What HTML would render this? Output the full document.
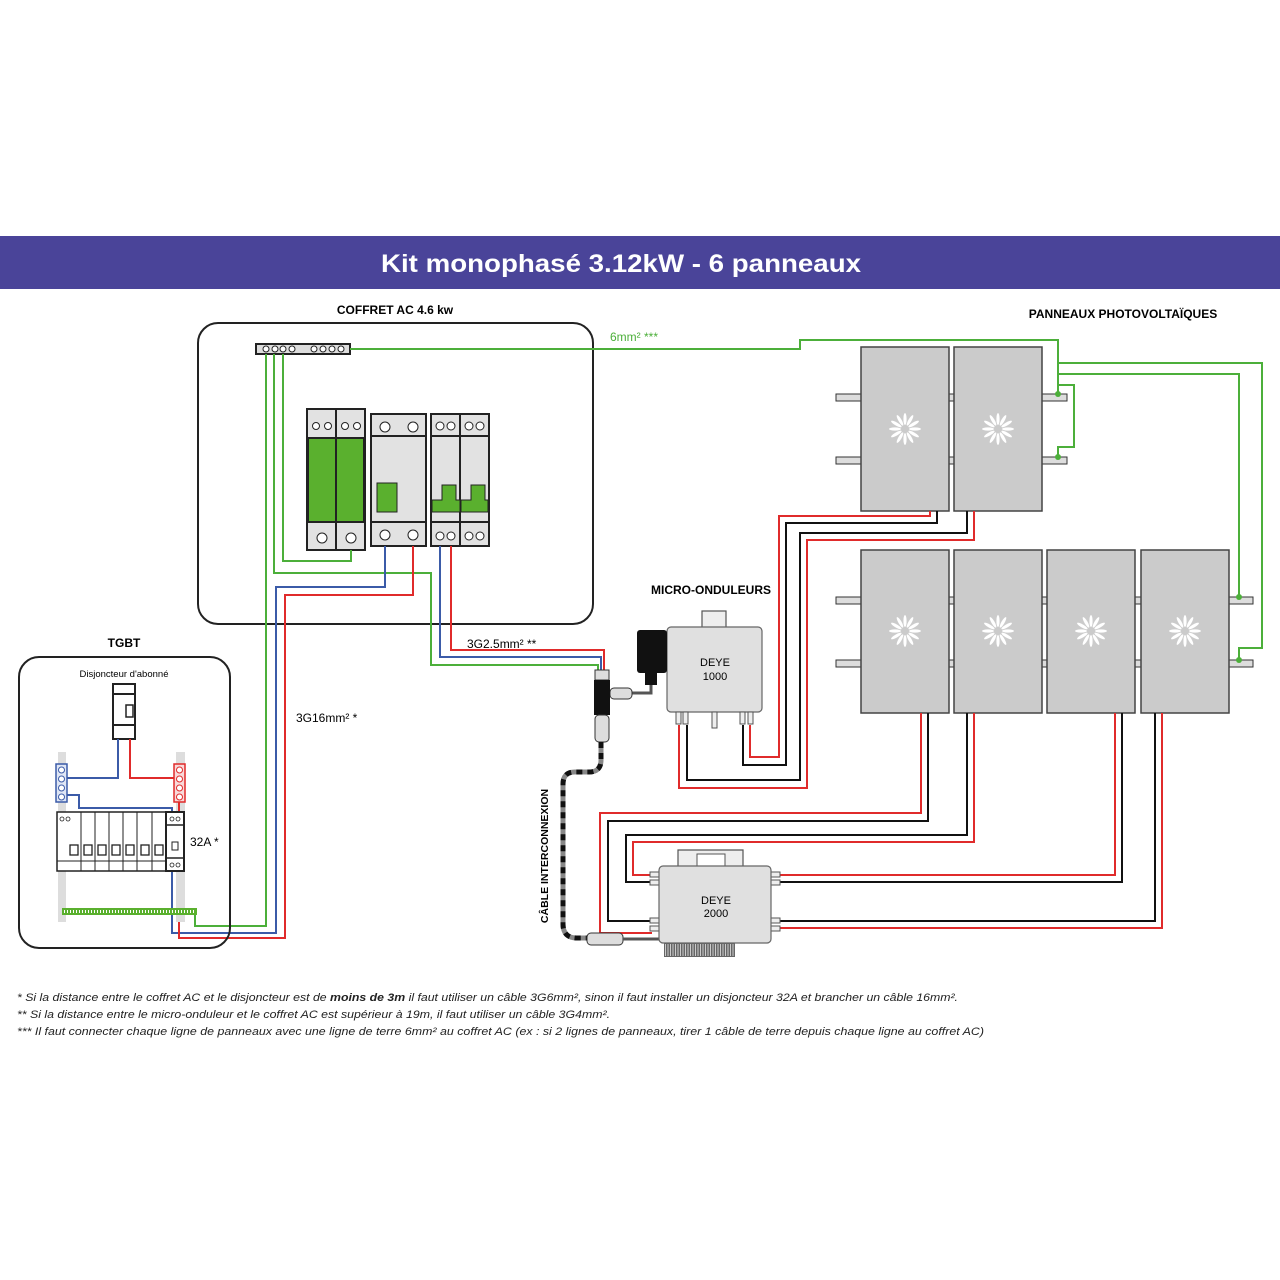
<!DOCTYPE html>
<html><head><meta charset="utf-8"><style>
html,body{margin:0;padding:0;background:#fff}
svg{display:block}
text{font-family:"Liberation Sans",sans-serif}
</style></head><body>
<svg width="1280" height="1280" viewBox="0 0 1280 1280" xmlns="http://www.w3.org/2000/svg">
<defs>
<g id="sun" fill="#fff">
<ellipse cx="0" cy="-10" rx="1.6" ry="6"/>
<ellipse cx="0" cy="-10" rx="1.6" ry="6" transform="rotate(30)"/>
<ellipse cx="0" cy="-10" rx="1.6" ry="6" transform="rotate(60)"/>
<ellipse cx="0" cy="-10" rx="1.6" ry="6" transform="rotate(90)"/>
<ellipse cx="0" cy="-10" rx="1.6" ry="6" transform="rotate(120)"/>
<ellipse cx="0" cy="-10" rx="1.6" ry="6" transform="rotate(150)"/>
<ellipse cx="0" cy="-10" rx="1.6" ry="6" transform="rotate(180)"/>
<ellipse cx="0" cy="-10" rx="1.6" ry="6" transform="rotate(210)"/>
<ellipse cx="0" cy="-10" rx="1.6" ry="6" transform="rotate(240)"/>
<ellipse cx="0" cy="-10" rx="1.6" ry="6" transform="rotate(270)"/>
<ellipse cx="0" cy="-10" rx="1.6" ry="6" transform="rotate(300)"/>
<ellipse cx="0" cy="-10" rx="1.6" ry="6" transform="rotate(330)"/>
</g>
</defs>
<rect width="1280" height="1280" fill="#fff"/>
<rect x="0" y="236" width="1280" height="53" fill="#4a4499"/>
<text x="381" y="272" textLength="480" lengthAdjust="spacingAndGlyphs" font-size="25" font-weight="bold" fill="#fff">Kit monophasé 3.12kW - 6 panneaux</text>

<text x="395" y="314" text-anchor="middle" font-size="12" font-weight="bold">COFFRET AC 4.6 kw</text>
<rect x="198" y="323" width="395" height="301" rx="20" fill="none" stroke="#222" stroke-width="2"/>
<rect x="256" y="344" width="94" height="10" fill="#ddd" stroke="#222" stroke-width="2"/>
<g fill="#fff" stroke="#222" stroke-width="1"><circle cx="266" cy="349" r="3"/><circle cx="275" cy="349" r="3"/><circle cx="283" cy="349" r="3"/><circle cx="292" cy="349" r="3"/><circle cx="314" cy="349" r="3"/><circle cx="323" cy="349" r="3"/><circle cx="332" cy="349" r="3"/><circle cx="341" cy="349" r="3"/></g>
<rect x="307" y="409" width="58" height="141" fill="#e2e2e2" stroke="#222" stroke-width="2"/>
<line x1="336" y1="409" x2="336" y2="550" stroke="#222" stroke-width="2"/>
<rect x="308" y="438" width="56" height="84" fill="#5ab02e" stroke="#222" stroke-width="2"/>
<line x1="336" y1="438" x2="336" y2="522" stroke="#222" stroke-width="2"/>
<rect x="371" y="414" width="55" height="132" fill="#e2e2e2" stroke="#222" stroke-width="2"/>
<line x1="371" y1="436" x2="426" y2="436" stroke="#222" stroke-width="2"/>
<line x1="371" y1="522" x2="426" y2="522" stroke="#222" stroke-width="2"/>
<rect x="377" y="483" width="20" height="29" fill="#5ab02e" stroke="#222" stroke-width="1"/>
<rect x="431" y="414" width="58" height="132" fill="#e2e2e2" stroke="#222" stroke-width="2"/>
<line x1="460" y1="414" x2="460" y2="546" stroke="#222" stroke-width="2"/>
<line x1="431" y1="436" x2="489" y2="436" stroke="#222" stroke-width="2"/>
<line x1="431" y1="522" x2="489" y2="522" stroke="#222" stroke-width="2"/>
<path d="M432 500 h10 v-15 h14 v15 h4 v12 h-28z M461 500 h10 v-15 h14 v15 h3 v12 h-27z" fill="#5ab02e" stroke="#222" stroke-width="1"/>
<g fill="#fff" stroke="#222" stroke-width="1">
<circle cx="316" cy="426" r="3.5"/><circle cx="328" cy="426" r="3.5"/><circle cx="345" cy="426" r="3.5"/><circle cx="357" cy="426" r="3.5"/>
<circle cx="322" cy="538" r="5"/><circle cx="351" cy="538" r="5"/>
<circle cx="385" cy="427" r="5"/><circle cx="413" cy="427" r="5"/><circle cx="385" cy="535" r="5"/><circle cx="413" cy="535" r="5"/>
<circle cx="440" cy="426" r="4"/><circle cx="451" cy="426" r="4"/><circle cx="469" cy="426" r="4"/><circle cx="480" cy="426" r="4"/>
<circle cx="440" cy="536" r="4"/><circle cx="451" cy="536" r="4"/><circle cx="469" cy="536" r="4"/><circle cx="480" cy="536" r="4"/>
</g>

<g fill="none" stroke-width="2">
<polyline points="283,354 283,561 351,561 351,550" stroke="#4caf3a"/>
<polyline points="274,354 274,573 431,573 431,665 598,665 598,672" stroke="#4caf3a"/>
<polyline points="266,354 266,926 195,926 195,914" stroke="#4caf3a"/>
<polyline points="385,546 385,587 276,587 276,933 172,933 172,870" stroke="#3b5ba8"/>
<polyline points="413,546 413,595 285,595 285,938 179,938 179,870" stroke="#e02b2b"/>
<polyline points="440,546 440,657 601,657 601,672" stroke="#3b5ba8"/>
<polyline points="451,546 451,650 604,650 604,672" stroke="#e02b2b"/>
<polyline points="350,349 800,349 800,340 1058,340 1058,394" stroke="#4caf3a"/>
<polyline points="1058,363 1262,363 1262,648 1239,648 1239,660" stroke="#4caf3a"/>
<polyline points="1058,374 1239,374 1239,597" stroke="#4caf3a"/>
<polyline points="1058,385 1074,385 1074,447 1058,447 1058,457" stroke="#4caf3a"/>
</g>
<text x="610" y="341" font-size="12" fill="#4caf3a">6mm² ***</text>
<text x="467" y="648" font-size="12">3G2.5mm² **</text>
<text x="296" y="722" font-size="12">3G16mm² *</text>

<text x="124" y="647" text-anchor="middle" font-size="12" font-weight="bold">TGBT</text>
<rect x="19" y="657" width="211" height="291" rx="20" fill="none" stroke="#222" stroke-width="2"/>
<text x="124" y="677" text-anchor="middle" font-size="9.5">Disjoncteur d'abonné</text>
<rect x="58" y="752" width="8" height="170" fill="#ddd"/>
<rect x="176" y="752" width="9" height="170" fill="#ddd"/>
<rect x="113" y="684" width="22" height="55" fill="#fff" stroke="#222" stroke-width="2"/>
<line x1="113" y1="694" x2="135" y2="694" stroke="#222" stroke-width="2"/>
<line x1="113" y1="725" x2="135" y2="725" stroke="#222" stroke-width="2"/>
<rect x="126" y="705" width="7" height="12" fill="#fff" stroke="#222" stroke-width="1.5"/>
<g fill="none" stroke-width="2">
<polyline points="118,739 118,778 67,778" stroke="#3b5ba8"/>
<polyline points="130,739 130,778 174,778" stroke="#e02b2b"/>
<polyline points="67,795 79,795 79,808 172,808 172,812" stroke="#3b5ba8"/>
<polyline points="179,802 179,812" stroke="#e02b2b"/>
</g>
<rect x="56" y="764" width="11" height="38" fill="#dfe6f5" stroke="#3b5ba8" stroke-width="1.5"/>
<rect x="174" y="764" width="11" height="38" fill="#f8dada" stroke="#e02b2b" stroke-width="1.5"/>
<g fill="#fff" stroke-width="1"><circle cx="61.5" cy="770" r="3" stroke="#3b5ba8"/><circle cx="61.5" cy="779" r="3" stroke="#3b5ba8"/><circle cx="61.5" cy="788" r="3" stroke="#3b5ba8"/><circle cx="61.5" cy="797" r="3" stroke="#3b5ba8"/>
<circle cx="179.5" cy="770" r="3" stroke="#e02b2b"/><circle cx="179.5" cy="779" r="3" stroke="#e02b2b"/><circle cx="179.5" cy="788" r="3" stroke="#e02b2b"/><circle cx="179.5" cy="797" r="3" stroke="#e02b2b"/></g>
<rect x="57" y="812" width="126" height="59" fill="#fff" stroke="#222" stroke-width="1.5"/>
<line x1="57" y1="861" x2="166" y2="861" stroke="#222" stroke-width="1"/>
<g stroke="#222" stroke-width="1"><line x1="81" y1="812" x2="81" y2="871"/><line x1="95" y1="812" x2="95" y2="871"/><line x1="109" y1="812" x2="109" y2="871"/><line x1="123" y1="812" x2="123" y2="871"/><line x1="137" y1="812" x2="137" y2="871"/><line x1="152" y1="812" x2="152" y2="871"/></g>
<rect x="166" y="812" width="18" height="59" fill="#fff" stroke="#222" stroke-width="2"/>
<line x1="166" y1="825" x2="184" y2="825" stroke="#222" stroke-width="1.5"/>
<line x1="166" y1="858" x2="184" y2="858" stroke="#222" stroke-width="1.5"/>
<rect x="172" y="842" width="6" height="8" fill="#fff" stroke="#222" stroke-width="1"/>
<g fill="#fff" stroke="#222" stroke-width="1.3"><rect x="70" y="845" width="8" height="10"/><rect x="84" y="845" width="8" height="10"/><rect x="98" y="845" width="8" height="10"/><rect x="112" y="845" width="8" height="10"/><rect x="126" y="845" width="8" height="10"/><rect x="141" y="845" width="8" height="10"/><rect x="155" y="845" width="8" height="10"/></g>
<g fill="none" stroke="#222" stroke-width="0.8"><circle cx="62" cy="819" r="2"/><circle cx="68" cy="819" r="2"/><circle cx="172" cy="819" r="2"/><circle cx="178" cy="819" r="2"/><circle cx="172" cy="865" r="2"/><circle cx="178" cy="865" r="2"/></g>
<text x="190" y="846" font-size="12">32A *</text>
<rect x="62" y="908" width="135" height="7" fill="#5ab02e"/>
<line x1="64" y1="911.5" x2="195" y2="911.5" stroke="#fff" stroke-width="3" stroke-dasharray="1 2"/>

<g fill="#ddd" stroke="#333" stroke-width="1">
<rect x="836" y="394" width="231" height="7"/><rect x="836" y="457" width="231" height="7"/>
<rect x="836" y="597" width="417" height="7"/><rect x="836" y="660" width="417" height="7"/>
</g>
<g fill="#cbcbcb" stroke="#444" stroke-width="1.5">
<rect x="861" y="347" width="88" height="164"/><rect x="954" y="347" width="88" height="164"/>
<rect x="861" y="550" width="88" height="163"/><rect x="954" y="550" width="88" height="163"/>
<rect x="1047" y="550" width="88" height="163"/><rect x="1141" y="550" width="88" height="163"/>
</g>
<use href="#sun" x="905" y="429"/><use href="#sun" x="998" y="429"/>
<use href="#sun" x="905" y="631"/><use href="#sun" x="998" y="631"/><use href="#sun" x="1091" y="631"/><use href="#sun" x="1185" y="631"/>
<g fill="#4caf3a"><circle cx="1058" cy="394" r="3"/><circle cx="1058" cy="457" r="3"/><circle cx="1239" cy="597" r="3"/><circle cx="1239" cy="660" r="3"/></g>
<text x="1123" y="318" text-anchor="middle" font-size="12" font-weight="bold">PANNEAUX PHOTOVOLTAÏQUES</text>

<g fill="none" stroke-width="2">
<polyline points="930,511 930,516 779,516 779,757 750,757 750,725" stroke="#e02b2b"/>
<polyline points="937,511 937,523 786,523 786,765 743,765 743,725" stroke="#111"/>
<polyline points="967,511 967,533 800,533 800,780 687,780 687,725" stroke="#111"/>
<polyline points="974,511 974,540 807,540 807,788 679,788 679,725" stroke="#e02b2b"/>
<polyline points="921,713 921,813 600,813 600,933 652,933" stroke="#e02b2b"/>
<polyline points="928,713 928,821 608,821 608,921 652,921" stroke="#111"/>
<polyline points="967,713 967,835 626,835 626,882 652,882" stroke="#111"/>
<polyline points="974,713 974,842 633,842 633,875 652,875" stroke="#e02b2b"/>
<polyline points="1115,713 1115,875 778,875" stroke="#e02b2b"/>
<polyline points="1122,713 1122,882 778,882" stroke="#111"/>
<polyline points="1155,713 1155,921 778,921" stroke="#111"/>
<polyline points="1162,713 1162,928 778,928" stroke="#e02b2b"/>
</g>

<text x="711" y="594" text-anchor="middle" font-size="12" font-weight="bold">MICRO-ONDULEURS</text>
<rect x="702" y="611" width="24" height="18" fill="#eee" stroke="#555" stroke-width="1.2"/>
<rect x="667" y="627" width="95" height="85" rx="4" fill="#e0e0e0" stroke="#666" stroke-width="1.2"/>
<g fill="#eee" stroke="#555" stroke-width="1"><rect x="676" y="712" width="5" height="12"/><rect x="683" y="712" width="5" height="12"/><rect x="712" y="712" width="5" height="16"/><rect x="740" y="712" width="5" height="12"/><rect x="748" y="712" width="5" height="12"/></g>
<text x="715" y="666" text-anchor="middle" font-size="11">DEYE</text>
<text x="715" y="680" text-anchor="middle" font-size="11">1000</text>
<rect x="637" y="630" width="30" height="43" rx="3" fill="#111"/>
<rect x="645" y="673" width="12" height="12" fill="#111"/>
<path d="M651 685 v8 h-22" fill="none" stroke="#555" stroke-width="3"/>
<rect x="610" y="688" width="22" height="11" rx="4" fill="#ddd" stroke="#333"/>
<rect x="595" y="670" width="14" height="10" fill="#ddd" stroke="#333"/>
<rect x="594" y="680" width="16" height="35" fill="#111"/>
<rect x="595" y="715" width="14" height="27" rx="4" fill="#ddd" stroke="#333"/>
<path d="M601 742 v18 q0 12 -12 12 h-14 q-12 0 -12 12 v140 q0 14 14 14 h10" fill="none" stroke="#888" stroke-width="5"/>
<path d="M601 742 v18 q0 12 -12 12 h-14 q-12 0 -12 12 v140 q0 14 14 14 h10" fill="none" stroke="#111" stroke-width="5" stroke-dasharray="6 5"/>
<rect x="587" y="933" width="36" height="12" rx="4" fill="#ddd" stroke="#333"/>
<line x1="623" y1="939" x2="659" y2="939" stroke="#555" stroke-width="3"/>
<text transform="translate(548,856) rotate(-90)" text-anchor="middle" font-size="10.5" font-weight="bold">CÂBLE INTERCONNEXION</text>

<path d="M678 866 v-16 h65 v16" fill="#eee" stroke="#555" stroke-width="1.2"/>
<rect x="697" y="854" width="28" height="12" fill="#fff" stroke="#555"/>
<g fill="#eee" stroke="#555" stroke-width="1"><rect x="650" y="872" width="10" height="5"/><rect x="650" y="880" width="10" height="5"/><rect x="650" y="918" width="10" height="5"/><rect x="650" y="926" width="10" height="5"/>
<rect x="770" y="872" width="10" height="5"/><rect x="770" y="880" width="10" height="5"/><rect x="770" y="918" width="10" height="5"/><rect x="770" y="926" width="10" height="5"/></g>
<rect x="659" y="866" width="112" height="77" rx="4" fill="#e0e0e0" stroke="#666" stroke-width="1.2"/>
<rect x="664" y="943" width="71" height="14" fill="#666"/>
<line x1="665" y1="950" x2="734" y2="950" stroke="#ccc" stroke-width="12" stroke-dasharray="1 1.5"/>
<text x="716" y="904" text-anchor="middle" font-size="11">DEYE</text>
<text x="716" y="917" text-anchor="middle" font-size="11">2000</text>

<g font-size="11" font-style="italic" fill="#222">
<text x="17" y="1001" textLength="941" lengthAdjust="spacingAndGlyphs">* Si la distance entre le coffret AC et le disjoncteur est de <tspan font-weight="bold">moins de 3m</tspan> il faut utiliser un câble 3G6mm², sinon il faut installer un disjoncteur 32A et brancher un câble 16mm².</text>
<text x="17" y="1018" textLength="593" lengthAdjust="spacingAndGlyphs">** Si la distance entre le micro-onduleur et le coffret AC est supérieur à 19m, il faut utiliser un câble 3G4mm².</text>
<text x="17" y="1035" textLength="967" lengthAdjust="spacingAndGlyphs">*** Il faut connecter chaque ligne de panneaux avec une ligne de terre 6mm² au coffret AC (ex : si 2 lignes de panneaux, tirer 1 câble de terre depuis chaque ligne au coffret AC)</text>
</g>
</svg>
</body></html>
